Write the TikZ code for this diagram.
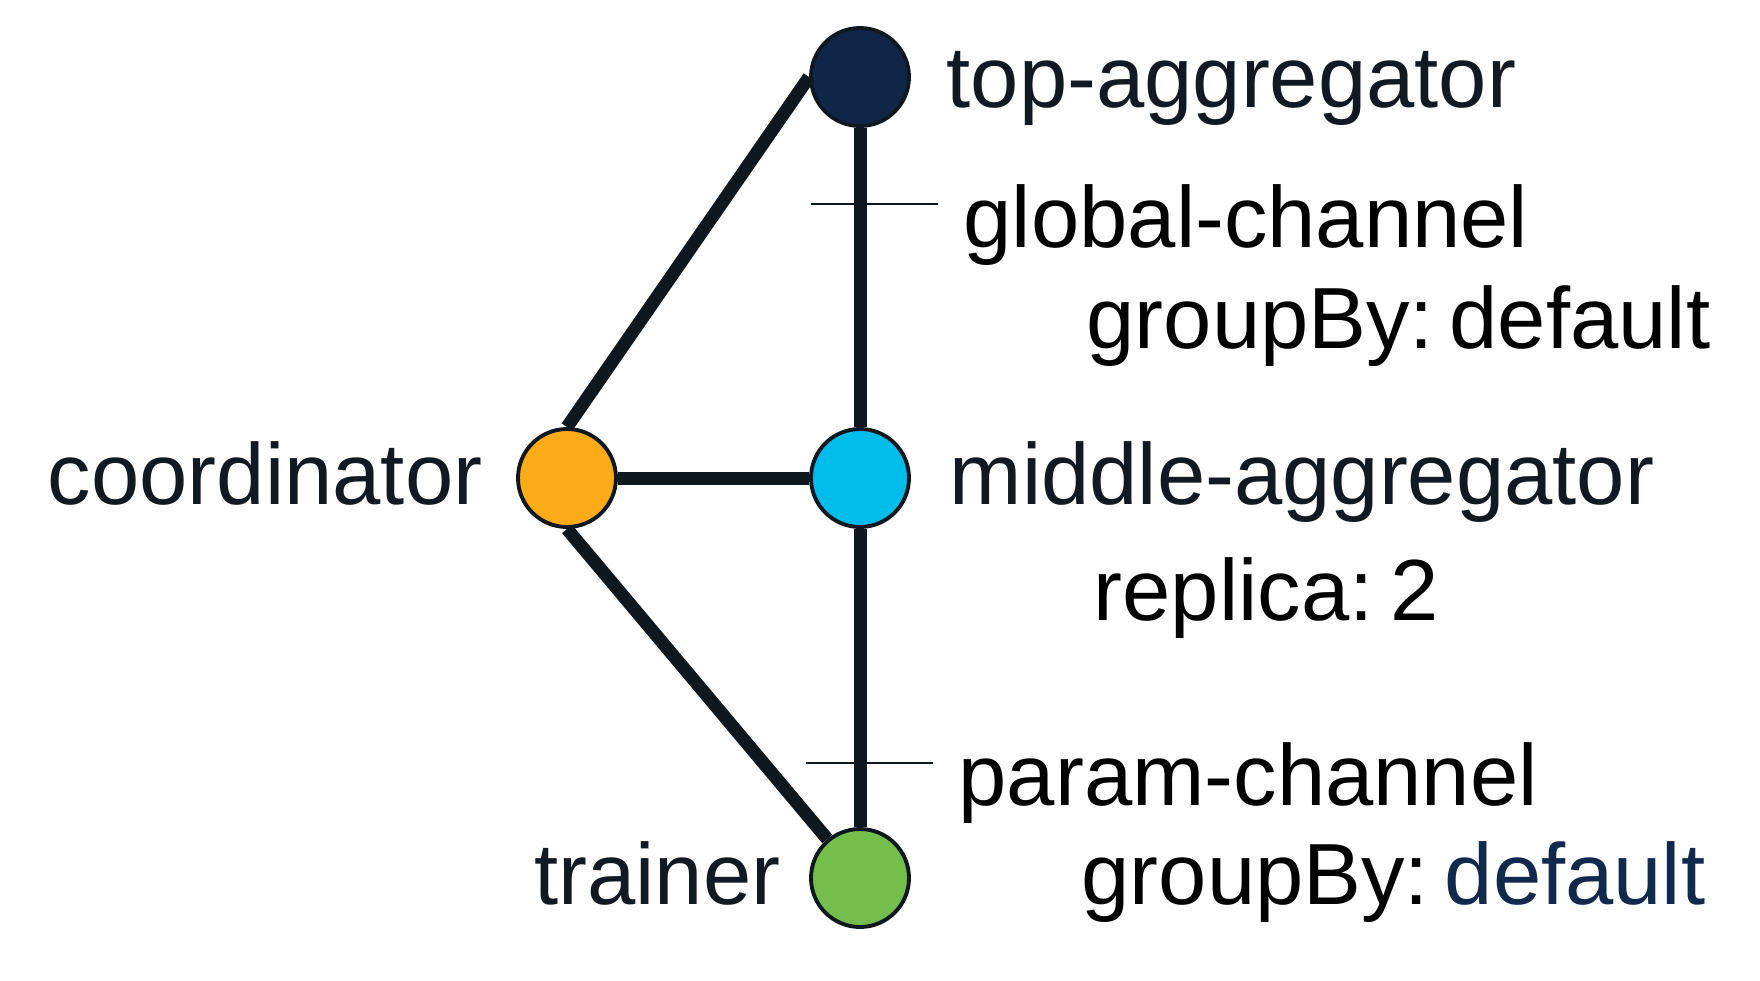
\documentclass[tikz,border=0pt]{standalone}
\usepackage{fontspec}
\setmainfont{Liberation Sans}
\definecolor{linedark}{HTML}{10181F}
\definecolor{textdark}{HTML}{111A22}
\definecolor{navyagg}{HTML}{0F2649}
\definecolor{cyanagg}{HTML}{00BCEB}
\definecolor{orangecoord}{HTML}{FBAB18}
\definecolor{greentrainer}{HTML}{74BF4B}
\definecolor{navytext}{HTML}{10294C}
\begin{document}
\begin{tikzpicture}[
    % Styles for the role circles, labels and links
    role/.style={circle, fill=#1, draw=linedark, line width=1.1pt, minimum size=0.98cm, inner sep=0pt},
    lbl/.style={font=\fontsize{24.7}{29}\selectfont, text=textdark, inner sep=0pt},
    chan/.style={lbl, text=black},
    link/.style={line width=3.7pt, draw=linedark},
    tickline/.style={line width=0.7pt, draw=linedark}
]
\useasboundingbox (0,0) rectangle (17.6,9.8);

% ---------------------------------------------------------
% 1. ROLES (circle nodes)
% ---------------------------------------------------------
\node[role=navyagg] (topagg) at (8.60, 9.03) {};
\node[role=cyanagg] (midagg) at (8.60, 5.02) {};
\node[role=orangecoord] (coord) at (5.67, 5.02) {};
\node[role=greentrainer] (trainer) at (8.60, 1.02) {};

% ---------------------------------------------------------
% 2. LINKS (channels between roles)
% ---------------------------------------------------------
\draw[link] (topagg.south) -- (midagg.north);
\draw[link] (midagg.south) -- (trainer.north);
\draw[link] (coord) -- (midagg);
\draw[link] (coord.north) -- (topagg.west);
\draw[link] (coord.south) -- (trainer);

% Channel ticks
\coordinate (gtickL) at (8.11, 7.76);
\coordinate (gtickR) at (9.38, 7.76);
\draw[tickline] (gtickL) -- (gtickR);

\coordinate (ptickL) at (8.06, 2.17);
\coordinate (ptickR) at (9.33, 2.17);
\draw[tickline] (ptickL) -- (ptickR);

% ---------------------------------------------------------
% 3. TEXTS (labels)
% ---------------------------------------------------------
\node[lbl, anchor=base west] (toplbl) at (9.46, 8.73) {top-aggregator};
\node[chan, anchor=base west] (globallbl) at (9.63, 7.33) {global-channel};
\node[chan, anchor=base west] (globalgrp) at (10.86, 6.32) {groupBy:\hspace{0.18em}default};

\node[lbl, anchor=base west] (midlbl) at (9.49, 4.76) {middle-aggregator};
\node[chan, anchor=base west] (replbl) at (10.93, 3.60) {replica:\hspace{0.2em}2};

\node[chan, anchor=base west] (paramlbl) at (9.58, 1.75) {param-channel};
\node[chan, anchor=base west] (paramgrp) at (10.81, 0.76) {groupBy:\hspace{0.18em}\textcolor{navytext}{default}};

\node[lbl, anchor=base east] (coordlbl) at (4.83, 4.76) {coordinator};
\node[lbl, anchor=base east] (trainerlbl) at (7.81, 0.76) {trainer};

\end{tikzpicture}
\end{document}
